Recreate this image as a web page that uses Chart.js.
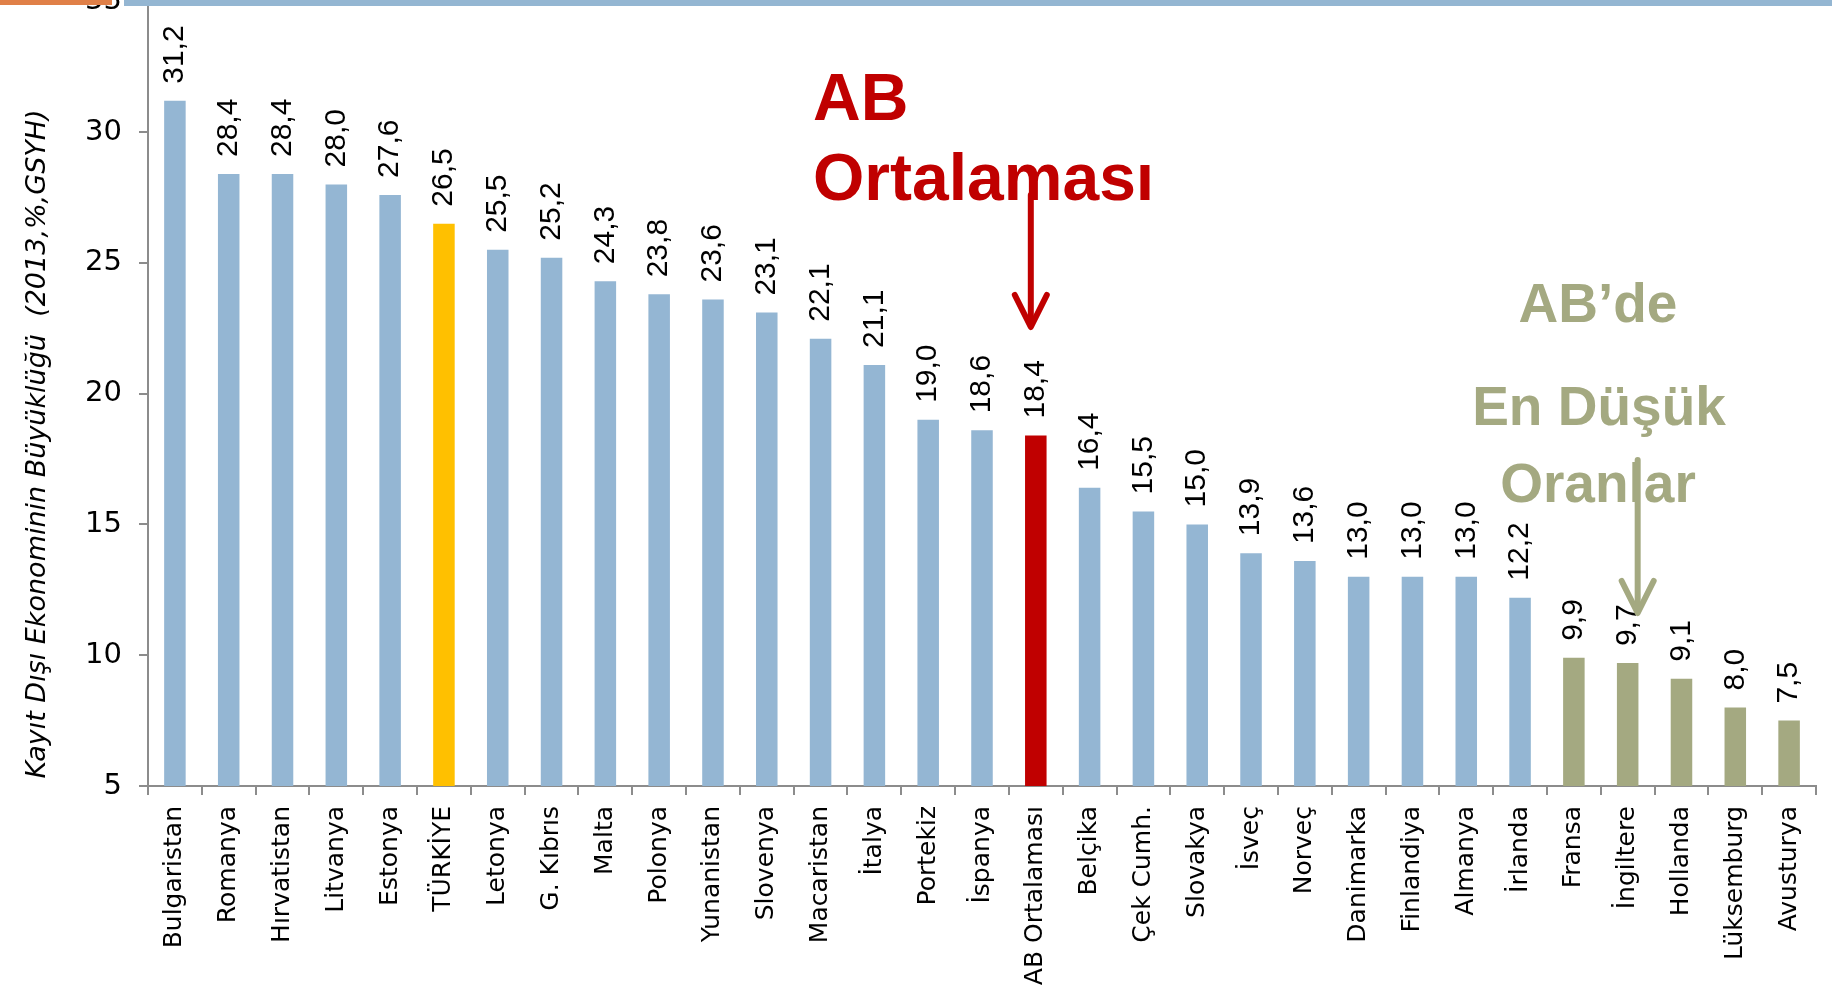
<!DOCTYPE html>
<html lang="tr">
<head>
    <meta charset="UTF-8">
    <title>Kayıt Dışı Ekonomi</title>
    <script src="https://cdn.jsdelivr.net/npm/chart.js"></script>
    <style>
        body { margin: 0; padding: 0; background: #fff; overflow: hidden; }
        #band-orange { position: absolute; left: 0; top: 0; width: 112px; height: 5px; background: #e08048; z-index: 2; }
        #band-blue { position: absolute; left: 124px; top: 0; right: 0; height: 6px; background: #94b6d2; z-index: 2; }
        #chart-container { position: absolute; left: 0; top: -33px; width: 1832px; height: 1026px; }
    </style>
</head>
<body>
<div id="band-orange"></div>
<div id="band-blue"></div>
<div id="chart-container">
    <canvas id="kdeChart"></canvas>
</div>

<script>
// Ülkeler ve 2013 kayıt dışı ekonomi oranları (% GSYH)
const countries = [
    'Bulgaristan', 'Romanya', 'Hırvatistan', 'Litvanya', 'Estonya', 'TÜRKİYE',
    'Letonya', 'G. Kıbrıs', 'Malta', 'Polonya', 'Yunanistan', 'Slovenya',
    'Macaristan', 'İtalya', 'Portekiz', 'İspanya', 'AB Ortalaması', 'Belçika',
    'Çek Cumh.', 'Slovakya', 'İsveç', 'Norveç', 'Danimarka', 'Finlandiya',
    'Almanya', 'İrlanda', 'Fransa', 'İngiltere', 'Hollanda', 'Lüksemburg', 'Avusturya'
];
const shares = [
    31.2, 28.4, 28.4, 28.0, 27.6, 26.5,
    25.5, 25.2, 24.3, 23.8, 23.6, 23.1,
    22.1, 21.1, 19.0, 18.6, 18.4, 16.4,
    15.5, 15.0, 13.9, 13.6, 13.0, 13.0,
    13.0, 12.2, 9.9, 9.7, 9.1, 8.0, 7.5
];
const yTicks = [5, 10, 15, 20, 25, 30, 35];

const turkeyName = 'TÜRKİYE';
const euAverageName = 'AB Ortalaması';
const lowestNames = ['Fransa', 'İngiltere', 'Hollanda', 'Lüksemburg', 'Avusturya'];

const BLUE = '#94b6d3';
const YELLOW = '#ffc000';
const RED = '#c00000';
const GREEN = '#a4a981';

const barColors = countries.map(c => {
    if (c === turkeyName) return YELLOW;
    if (c === euAverageName) return RED;
    if (lowestNames.includes(c)) return GREEN;
    return BLUE;
});

// values drawn vertically above each bar, with comma decimals
const valueLabels = {
    id: 'valueLabels',
    afterDatasetsDraw(chart) {
        const ctx = chart.ctx;
        const meta = chart.getDatasetMeta(0);
        ctx.save();
        ctx.font = '30px "Liberation Sans", Arial, sans-serif';
        ctx.fillStyle = '#000';
        ctx.textAlign = 'left';
        ctx.textBaseline = 'middle';
        meta.data.forEach((bar, i) => {
            const txt = shares[i].toFixed(1).replace('.', ',');
            ctx.save();
            ctx.translate(bar.x, bar.y - 17);
            ctx.rotate(-Math.PI / 2);
            ctx.fillText(txt, 0, 0);
            ctx.restore();
        });
        ctx.restore();
    }
};

// axis title and the two callouts
const callouts = {
    id: 'callouts',
    afterDraw(chart) {
        const ctx = chart.ctx;
        const x = chart.scales.x;
        const off = 33; // canvas is shifted up by this much

        ctx.save();
        // y axis title
        ctx.translate(38, 444 + off);
        ctx.rotate(-Math.PI / 2);
        ctx.font = 'italic 27px "DejaVu Sans", sans-serif';
        ctx.fillStyle = '#000';
        ctx.textAlign = 'center';
        ctx.textBaseline = 'middle';
        ctx.fillText('Kayıt Dışı Ekonominin Büyüklüğü  (2013,%,GSYH)', 0, 0);
        ctx.restore();

        // AB Ortalaması callout
        const abX = x.getPixelForValue(countries.indexOf(euAverageName)) - 5;
        ctx.save();
        ctx.fillStyle = RED;
        ctx.font = 'bold 66px "Liberation Sans", Arial, sans-serif';
        ctx.textAlign = 'left';
        ctx.textBaseline = 'alphabetic';
        ctx.fillText('AB', 813, 120 + off);
        ctx.fillText('Ortalaması', 813, 200 + off);
        drawArrow(ctx, abX, 195 + off, 327 + off, RED);
        ctx.restore();

        // En düşük oranlar callout
        const lowX = x.getPixelForValue(countries.indexOf('İngiltere')) + 10;
        ctx.save();
        ctx.fillStyle = GREEN;
        ctx.font = 'bold 55px "Liberation Sans", Arial, sans-serif';
        ctx.textAlign = 'center';
        ctx.fillText('AB’de', 1598, 322 + off);
        ctx.fillText('En Düşük', 1599, 425 + off);
        ctx.fillText('Oranlar', 1598, 502 + off);
        drawArrow(ctx, lowX, 460 + off, 613 + off, GREEN);
        ctx.restore();
    }
};

function drawArrow(ctx, x, y0, y1, color) {
    ctx.strokeStyle = color;
    ctx.lineWidth = 6;
    ctx.lineCap = 'round';
    ctx.lineJoin = 'round';
    ctx.beginPath();
    ctx.moveTo(x, y0);
    ctx.lineTo(x, y1 - 2);
    ctx.stroke();
    ctx.beginPath();
    ctx.moveTo(x - 16, y1 - 32);
    ctx.lineTo(x, y1);
    ctx.lineTo(x + 16, y1 - 32);
    ctx.stroke();
}

const ctx = document.getElementById('kdeChart').getContext('2d');
const kdeChart = new Chart(ctx, {
    type: 'bar',
    data: {
        labels: countries,
        datasets: [{
            label: 'Kayıt Dışı Ekonomi (%GSYH)',
            data: shares,
            backgroundColor: barColors,
            borderWidth: 0,
            barPercentage: 0.4,
            categoryPercentage: 1.0
        }]
    },
    options: {
        responsive: true,
        maintainAspectRatio: false,
        animation: false,
        layout: { padding: { left: 0, right: 16, top: 0, bottom: 0 } },
        plugins: {
            legend: { display: false },
            tooltip: { enabled: false }
        },
        scales: {
            x: {
                grid: {
                    offset: true,
                    drawOnChartArea: false,
                    tickLength: 9,
                    color: '#8c8c8c',
                    lineWidth: 2
                },
                border: { color: '#8c8c8c', width: 2 },
                ticks: {
                    autoSkip: false,
                    maxRotation: 90,
                    minRotation: 90,
                    padding: 11,
                    color: '#000',
                    font: { family: '"DejaVu Sans", sans-serif', size: 25 }
                },
                afterFit(scale) { scale.height = 207; }
            },
            y: {
                min: 5,
                max: 35,
                afterBuildTicks(scale) { scale.ticks = yTicks.map(v => ({ value: v })); },
                grid: {
                    drawOnChartArea: false,
                    tickLength: 9,
                    color: '#8c8c8c',
                    lineWidth: 2
                },
                border: { color: '#8c8c8c', width: 2 },
                ticks: {
                    padding: 17,
                    color: '#000',
                    font: { family: '"DejaVu Sans", sans-serif', size: 29 }
                },
                afterFit(scale) { scale.width = 148; }
            }
        }
    },
    plugins: [valueLabels, callouts]
});
</script>
</body>
</html>
